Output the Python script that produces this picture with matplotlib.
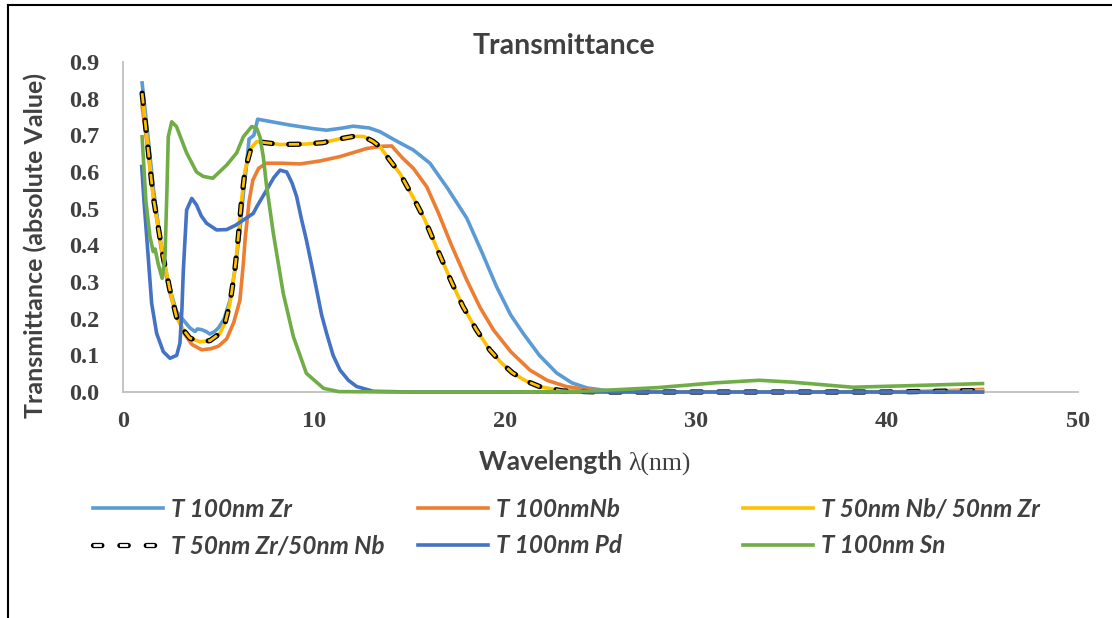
import matplotlib
matplotlib.use("Agg")
import matplotlib.pyplot as plt
from matplotlib.lines import Line2D
import matplotlib.patheffects as pe

# dash patterns below are given directly in points
plt.rcParams["lines.scale_dashes"] = False

# ---- data: wavelength (nm) and transmittance for each film ----
zr_x = [1.0, 1.3, 1.6, 2.0, 2.4, 2.8, 3.1, 3.5, 3.77, 3.9, 4.12, 4.35, 4.55, 4.8, 5.0,
        5.3, 5.6, 5.85, 6.1, 6.3, 6.47, 6.6, 6.85, 7.05, 8.0, 8.74, 10.0, 10.66, 11.5,
        12.05, 12.9, 13.45, 14.3, 15.2, 16.07, 17.0, 18.0, 18.8, 19.56, 20.3, 20.95,
        21.8, 22.7, 23.5, 24.3, 25.3, 27.0, 30.0, 35.0, 40.0, 45.0]
zr_y = [0.843, 0.70, 0.55, 0.40, 0.29, 0.22, 0.20, 0.175, 0.165, 0.172, 0.17, 0.165,
        0.158, 0.165, 0.175, 0.20, 0.25, 0.33, 0.43, 0.54, 0.62, 0.69, 0.70, 0.744,
        0.735, 0.728, 0.718, 0.714, 0.72, 0.725, 0.72, 0.71, 0.685, 0.66, 0.624, 0.555,
        0.474, 0.38, 0.287, 0.21, 0.16, 0.10, 0.052, 0.025, 0.011, 0.004, 0.001, 0.0,
        0.0, 0.0, 0.0]

nb_x = [1.0, 1.3, 1.6, 2.0, 2.4, 2.8, 3.2, 3.6, 4.12, 4.6, 5.0, 5.43, 5.8, 6.12, 6.3,
        6.4, 6.6, 6.8, 7.1, 7.5, 8.3, 9.27, 10.3, 11.36, 12.76, 13.5, 14.07, 14.6, 15.2,
        15.9, 16.5, 17.2, 18.0, 18.7, 19.4, 20.3, 21.3, 22.2, 23.2, 24.5, 26.0, 30.0,
        35.0, 40.0, 42.0, 45.0]
nb_y = [0.78, 0.66, 0.53, 0.39, 0.28, 0.21, 0.16, 0.13, 0.115, 0.118, 0.125, 0.145,
        0.19, 0.25, 0.35, 0.42, 0.52, 0.578, 0.61, 0.624, 0.624, 0.622, 0.63, 0.642,
        0.664, 0.67, 0.671, 0.64, 0.61, 0.56, 0.49, 0.40, 0.305, 0.23, 0.169, 0.11,
        0.06, 0.032, 0.015, 0.005, 0.001, 0.0, 0.0, 0.0, 0.002, 0.007]

nbzr_x = [1.0, 1.3, 1.58, 2.1, 2.45, 2.8, 3.15, 3.5, 4.03, 4.55, 5.08, 5.35, 5.6, 5.85,
          6.04, 6.2, 6.39, 6.7, 7.0, 8.22, 9.5, 10.47, 11.3, 12.05, 12.6, 13.1, 13.45,
          14.0, 14.5, 15.2, 15.8, 16.4, 17.2, 17.8, 18.5, 19.2, 19.8, 20.4, 21.1, 21.8,
          23.0, 25.0, 30.0, 35.0, 40.0, 45.0]
nbzr_y = [0.815, 0.67, 0.533, 0.369, 0.28, 0.205, 0.17, 0.147, 0.137, 0.14, 0.16, 0.19,
          0.242, 0.33, 0.424, 0.52, 0.605, 0.665, 0.683, 0.675, 0.676, 0.68, 0.69, 0.697,
          0.697, 0.683, 0.669, 0.63, 0.596, 0.53, 0.47, 0.396, 0.30, 0.233, 0.17, 0.115,
          0.08, 0.052, 0.03, 0.015, 0.003, 0.0, 0.0, 0.0, 0.0, 0.003]

zrnb_x = [1.0, 1.3, 1.58, 2.1, 2.45, 2.8, 3.15, 3.5, 4.03, 4.55, 5.08, 5.35, 5.6, 5.85,
          6.04, 6.2, 6.39, 6.7, 7.0, 8.22, 9.5, 10.47, 11.3, 12.05, 12.6, 13.1, 13.45,
          14.0, 14.5, 15.2, 15.8, 16.4, 17.2, 17.8, 18.5, 19.2, 19.8, 20.4, 21.1, 21.8,
          23.0, 25.0, 30.0, 35.0, 40.0, 45.0]
zrnb_y = [0.815, 0.67, 0.533, 0.369, 0.28, 0.205, 0.17, 0.147, 0.137, 0.14, 0.16, 0.19,
          0.242, 0.33, 0.424, 0.52, 0.605, 0.665, 0.683, 0.675, 0.676, 0.68, 0.69, 0.697,
          0.697, 0.683, 0.669, 0.63, 0.596, 0.53, 0.47, 0.396, 0.30, 0.233, 0.17, 0.115,
          0.08, 0.052, 0.03, 0.015, 0.003, 0.0, 0.0, 0.0, 0.0, 0.004]

pd_x = [0.98, 1.1, 1.24, 1.5, 1.76, 2.11, 2.46, 2.81, 2.98, 3.08, 3.16, 3.33, 3.6, 3.85,
        4.1, 4.38, 4.9, 5.43, 5.9, 6.3, 6.82, 7.0, 7.52, 7.9, 8.22, 8.57, 8.85, 9.09,
        9.35, 9.6, 9.9, 10.14, 10.4, 10.66, 11.0, 11.36, 11.8, 12.23, 13.1, 15.0, 20.0,
        25.0, 30.0, 35.0, 40.0, 45.0]
pd_y = [0.615, 0.52, 0.424, 0.242, 0.16, 0.11, 0.092, 0.10, 0.133, 0.22, 0.333, 0.496,
        0.528, 0.51, 0.48, 0.46, 0.442, 0.443, 0.455, 0.469, 0.487, 0.505, 0.551, 0.585,
        0.605, 0.60, 0.57, 0.533, 0.47, 0.415, 0.34, 0.278, 0.21, 0.16, 0.10, 0.06,
        0.032, 0.015, 0.002, 0.0, 0.0, 0.0, 0.0, 0.0, 0.0, 0.0]

sn_x = [1.0, 1.2, 1.41, 1.58, 1.68, 1.84, 2.05, 2.2, 2.3, 2.37, 2.55, 2.8, 3.33, 3.85,
        4.2, 4.7, 5.43, 5.95, 6.3, 6.74, 7.0, 7.17, 7.35, 7.5, 7.87, 8.39, 8.92, 9.6,
        10.5, 11.3, 15.0, 20.0, 23.0, 25.0, 28.0, 31.0, 33.3, 35.0, 38.2, 41.0, 45.0]
sn_y = [0.696, 0.52, 0.424, 0.383, 0.39, 0.35, 0.31, 0.37, 0.55, 0.696, 0.737, 0.724,
        0.652, 0.60, 0.588, 0.583, 0.619, 0.652, 0.696, 0.724, 0.719, 0.696, 0.64,
        0.569, 0.433, 0.269, 0.151, 0.051, 0.010, 0.001, 0.0, 0.0, 0.001, 0.004, 0.012,
        0.025, 0.032, 0.027, 0.013, 0.017, 0.023]

labels = ["T 100nm Zr", "T 100nmNb", "T 50nm Nb/ 50nm Zr",
          "T 50nm Zr/50nm Nb", "T 100nm Pd", "T 100nm Sn"]
x_ticks = [0, 10, 20, 30, 40, 50]
y_ticks = [0.0, 0.1, 0.2, 0.3, 0.4, 0.5, 0.6, 0.7, 0.8, 0.9]

# ---- figure ----
W, H = 1112, 618
fig = plt.figure(figsize=(W / 100, H / 100), dpi=100)
fig.patch.set_facecolor("white")
ax = fig.add_axes([123 / W, 1 - 392 / H, (1078 - 123) / W, (392 - 62) / H])

TXT = "#404040"
LW = 2.6
dash = (0, (7.5, 12.0))
legend_dash = (0, (6.0, 13.0))
outline = [pe.Stroke(linewidth=3.8, foreground="black", capstyle="round"), pe.Normal()]

ax.plot(zr_x, zr_y, color="#5B9BD5", lw=LW, zorder=2, clip_on=False)
ax.plot(nb_x, nb_y, color="#ED7D31", lw=LW, zorder=3, clip_on=False)
ax.plot(nbzr_x, nbzr_y, color="#FFC000", lw=LW, zorder=4, clip_on=False)
ax.plot(zrnb_x, zrnb_y, color="#FFC000", lw=2.0, ls=dash, zorder=5, clip_on=False,
        path_effects=outline)
ax.plot(pd_x, pd_y, color="#4472C4", lw=LW, zorder=6, clip_on=False)
ax.plot(sn_x, sn_y, color="#70AD47", lw=LW, zorder=7, clip_on=False)

ax.set_xlim(0, 50)
ax.set_ylim(0, 0.9)
ax.set_xticks(x_ticks)
ax.set_yticks(y_ticks)
ax.set_xticklabels([str(v) for v in x_ticks])
ax.set_yticklabels([f"{v:.1f}" for v in y_ticks])
for s in ("top", "right"):
    ax.spines[s].set_visible(False)
for s in ("left", "bottom"):
    ax.spines[s].set_color("#BFBFBF")
    ax.spines[s].set_linewidth(1.3)
ax.tick_params(length=0, labelcolor=TXT)
ax.tick_params(axis="x", pad=14)
ax.tick_params(axis="y", pad=17)
for t in ax.get_xticklabels() + ax.get_yticklabels():
    t.set_fontfamily("Liberation Serif")
    t.set_fontweight("bold")
    t.set_fontsize(17.5)

# titles and axis labels
fig.text(564 / W, 1 - 54 / H, "Transmittance", family="Lato", weight="bold",
         size=20.5, color=TXT, ha="center", va="baseline")
fig.text(35 / W, 1 - 246 / H, "Transmittance (absolute Value)", family="Lato",
         weight="bold", size=18, color=TXT, rotation=90, ha="center", va="center")
fig.text(628 / W, 1 - 470 / H, "Wavelength ", family="Lato", weight="bold",
         size=19, color=TXT, ha="right", va="baseline")
fig.text(628 / W, 1 - 470 / H, "λ(nm)", family="Liberation Serif",
         size=18.5, color=TXT, ha="left", va="baseline")

# legend, three columns of two rows
h_zr = Line2D([], [], color="#5B9BD5", lw=LW)
h_nb = Line2D([], [], color="#ED7D31", lw=LW)
h_nbzr = Line2D([], [], color="#FFC000", lw=LW)
h_zrnb = Line2D([], [], color="none", lw=2.0)  # key drawn below with its own dashes
h_pd = Line2D([], [], color="#4472C4", lw=LW)
h_sn = Line2D([], [], color="#70AD47", lw=LW)
columns = [((h_zr, h_zrnb), (labels[0], labels[3]), 93),
           ((h_nb, h_pd), (labels[1], labels[4]), 418),
           ((h_nbzr, h_sn), (labels[2], labels[5]), 743)]
LFS = 17.5
legends = []
for handles, labs, x0 in columns:
    leg = fig.legend(handles, labs, loc="center left",
                     bbox_to_anchor=(x0 / W, 1 - 527.5 / H), frameon=False,
                     borderpad=0, borderaxespad=0, handlelength=50.4 / LFS,
                     handletextpad=5.5 / LFS, labelspacing=0.55,
                     prop={"family": "Lato", "weight": "bold", "style": "italic",
                           "size": LFS})
    for t in leg.get_texts():
        t.set_color(TXT)
    legends.append(leg)

# dashed key for the Zr/Nb bilayer, placed on its legend slot
fig.canvas.draw()
slot = legends[0].get_lines()[1]
xd, yd = slot.get_xdata(), slot.get_ydata()
to_fig = slot.get_transform() + fig.transFigure.inverted()
(fx0, fy0), (fx1, fy1) = to_fig.transform([(xd[0], yd[0]), (xd[-1], yd[-1])])
fig.add_artist(Line2D([fx0, fx1], [fy0, fy1], transform=fig.transFigure,
                      color="white", lw=2.0, ls=legend_dash, path_effects=outline))

# outer frame (left and top edges)
fig.add_artist(Line2D([8 / W, 8 / W], [0, 1 - 5 / H], transform=fig.transFigure,
                      color="black", lw=1.5))
fig.add_artist(Line2D([8 / W, 1], [1 - 5 / H, 1 - 5 / H], transform=fig.transFigure,
                      color="black", lw=1.5))

fig.savefig("out.png", dpi=100, facecolor="white")
